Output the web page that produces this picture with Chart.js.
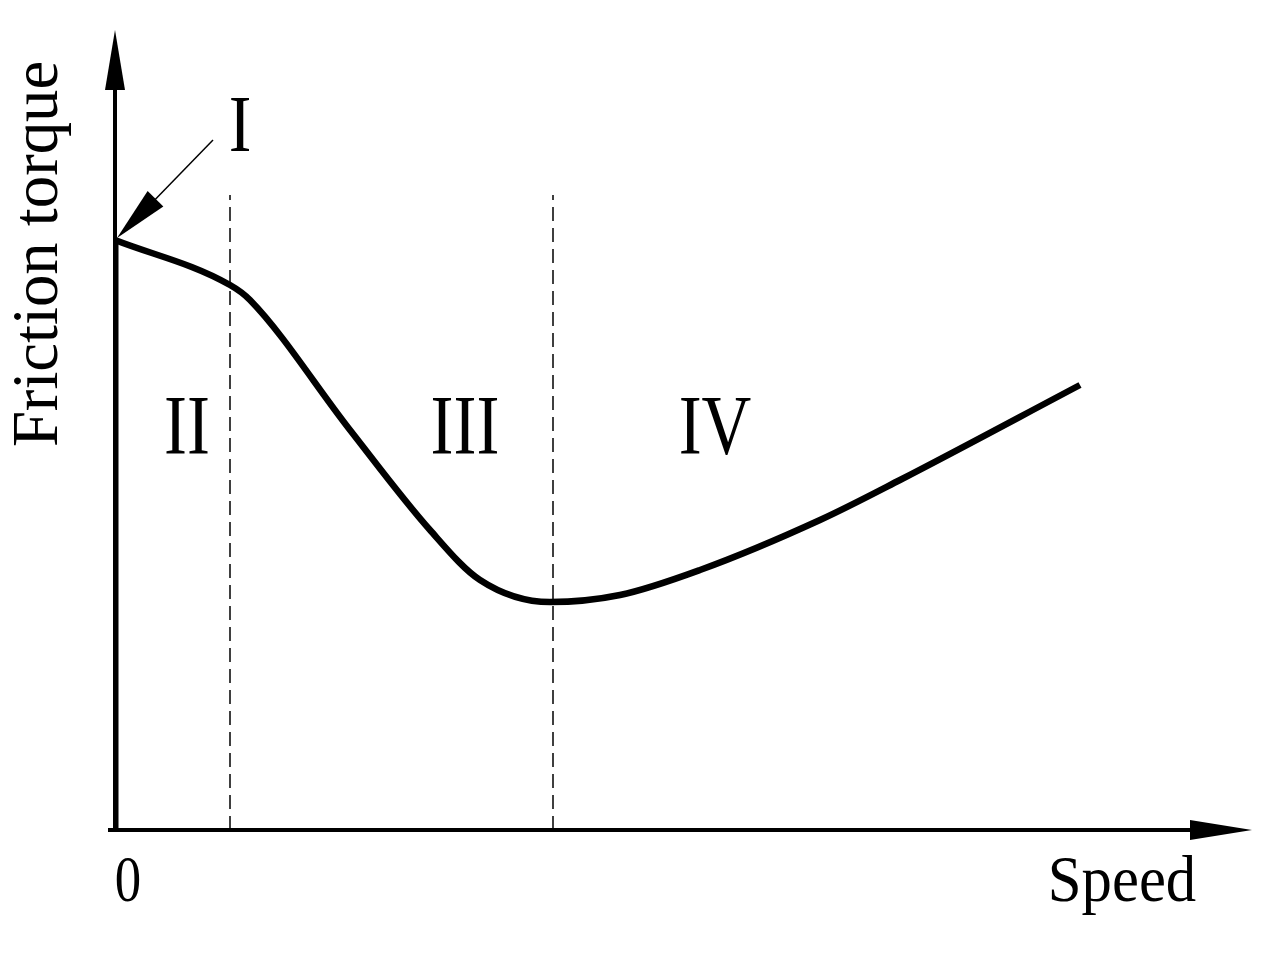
<!DOCTYPE html>
<html><head><meta charset="utf-8">
<script src="https://cdn.jsdelivr.net/npm/chart.js@4"></script>
<style>html,body{margin:0;padding:0;background:#fff}#wrap{width:1283px;height:957px}</style>
</head><body><div id="wrap"><canvas id="c"></canvas></div>
<script>
const curveX = [0,1.15,1.35,2.35,3.15,3.65,4.35,5.05,5.85,7.05,7.85,9.65];
const curveY = [5.9,5.45,5.3,4.0,3.0,2.5,2.28,2.35,2.6,3.1,3.5,4.45];
const dividerX = [1.15,4.38];
const dividerTop = 6.35;
const regionLabels = ["II","III","IV"];
const regionX = [0.72,3.5,6.0];
const regionY = 3.98;

const pts = curveX.map((x,i)=>({x, y:curveY[i]}));
const datasets = [
  {data:pts, borderColor:'#000', borderWidth:6.5, pointRadius:0, cubicInterpolationMode:'monotone'},
  {data:[{x:0,y:0},{x:0,y:curveY[0]}], borderColor:'#000', borderWidth:7, pointRadius:0}
];
dividerX.forEach(x=>datasets.push({data:[{x,y:0},{x,y:dividerTop}], borderColor:'#000', borderWidth:1.5, borderDash:[14,7], pointRadius:0}));

function arrowHead(ctx,x1,y1,x2,y2,len,w){
  const a=Math.atan2(y2-y1,x2-x1);
  ctx.beginPath();ctx.moveTo(x2,y2);
  ctx.lineTo(x2-len*Math.cos(a)+w*Math.sin(a), y2-len*Math.sin(a)-w*Math.cos(a));
  ctx.lineTo(x2-len*Math.cos(a)-w*Math.sin(a), y2-len*Math.sin(a)+w*Math.cos(a));
  ctx.closePath();ctx.fill();
}
function txt(ctx,t,x,y,size,sx){
  ctx.save();ctx.translate(x,y);ctx.scale(sx,1);
  ctx.font=size+'px "Liberation Serif"';ctx.fillText(t,0,0);ctx.restore();
}
const deco = {id:'deco', afterDatasetsDraw(chart){
  const {ctx, scales:{x,y}} = chart;
  const x0=x.getPixelForValue(0), y0=y.getPixelForValue(0);
  ctx.save();ctx.fillStyle='#000';ctx.strokeStyle='#000';ctx.lineWidth=4;
  ctx.beginPath();ctx.moveTo(108,y0);ctx.lineTo(1200,y0);ctx.stroke();
  arrowHead(ctx,1100,y0,1252,y0,62,10);
  ctx.beginPath();ctx.moveTo(x0,y0);ctx.lineTo(x0,80);ctx.stroke();
  arrowHead(ctx,x0,300,x0,30,60,10);
  const px=x0, py=y.getPixelForValue(curveY[0]);
  ctx.lineWidth=1.5;ctx.beginPath();ctx.moveTo(213,140);ctx.lineTo(px+30,py-30);ctx.stroke();
  arrowHead(ctx,213,140,px+2,py-2,55,11);
  ctx.textAlign='center';ctx.textBaseline='middle';
  txt(ctx,'I',240,130,80,0.85);
  regionLabels.forEach((t,i)=>txt(ctx,t,x.getPixelForValue(regionX[i]),y.getPixelForValue(regionY),84,0.82));
  txt(ctx,'0',128,884,66,0.8);
  txt(ctx,'Speed',1122,884,66,0.92);
  ctx.save();ctx.translate(40,254);ctx.rotate(-Math.PI/2);txt(ctx,'Friction torque',0,0,66,0.98);ctx.restore();
  ctx.restore();
}};
new Chart(document.getElementById('c'),{
  type:'line', data:{datasets},
  options:{responsive:true, maintainAspectRatio:false, animation:false,
    layout:{padding:{left:115,right:33,top:30,bottom:127}},
    plugins:{legend:{display:false},tooltip:{enabled:false}},
    scales:{x:{type:'linear',min:0,max:11.35,display:false},y:{min:0,max:8,display:false}}},
  plugins:[deco]
});
</script></body></html>
